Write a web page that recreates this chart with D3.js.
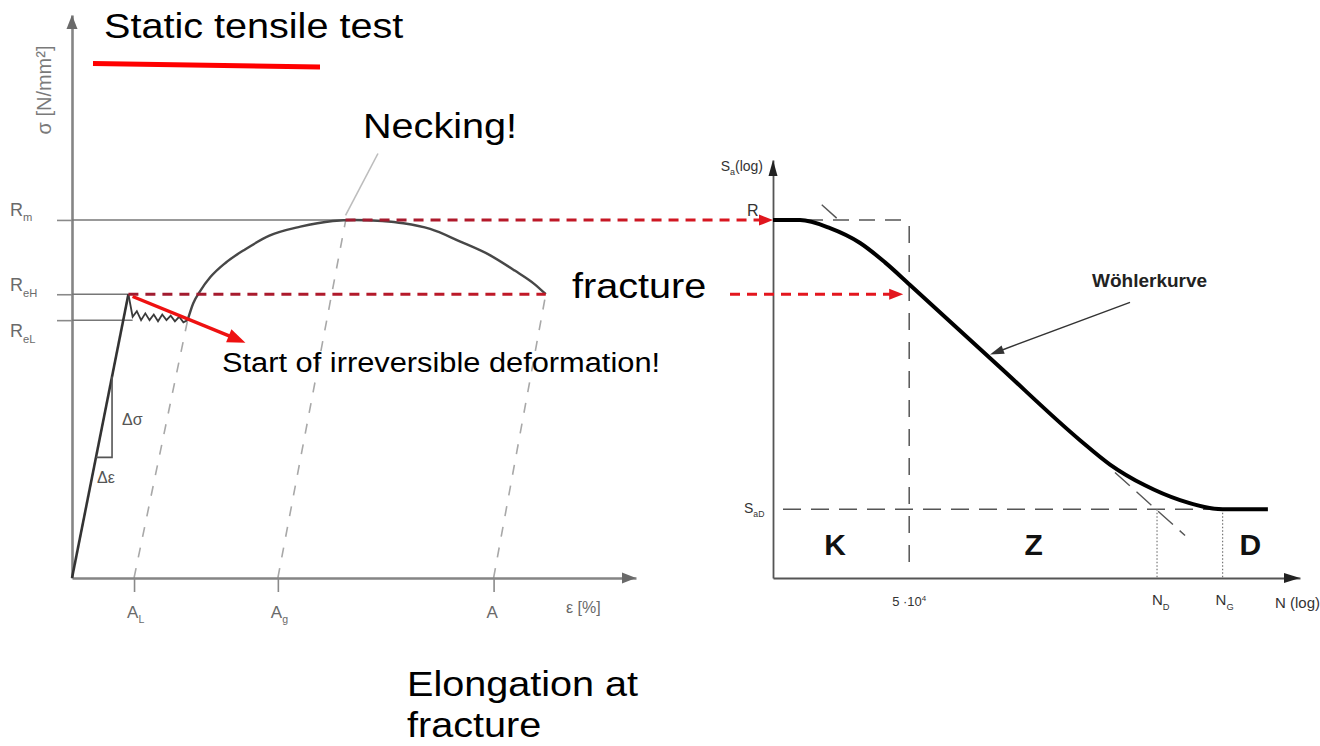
<!DOCTYPE html>
<html><head><meta charset="utf-8">
<script src="https://cdn.jsdelivr.net/npm/d3@7"></script>
<style>
body{margin:0;background:#fff}
svg{display:block}
text{font-family:"Liberation Sans",Arial,sans-serif}
</style>
</head><body>
<svg id="c" width="1320" height="746"></svg>
<script>
// ---------- DATA: static tensile test (strain in %, stress in N/mm²) ----------
const elasticLine   = [[0,0],[4.0,252]];
const yieldPlateau  = [[4.0,252],[4.3,232],[4.6,237],[4.9,229],[5.2,235],[5.5,229],[5.8,234],[6.1,228],[6.4,234],[6.7,229],[7.0,233],[7.3,228],[7.6,232],[7.9,227],[8.2,229]];
const hardeningCurve= [[8.2,229],[8.6,244],[9.1,255],[9.8,267],[10.9,280],[12.3,292],[14.0,304],[16.2,312],[18.5,317],[20.0,318],[22.0,317],[23.5,315],[25.4,310],[27.5,299],[29.6,287],[31.4,273],[32.8,261],[33.6,252]];
const stressLevels  = [{name:"R",sub:"m",value:318},{name:"R",sub:"eH",value:252},{name:"R",sub:"eL",value:229}];
const strainMarks   = [{name:"A",sub:"L",value:4.4},{name:"A",sub:"g",value:14.6},{name:"A",sub:"",value:29.9}];
const unloadTargets = [[8.2,229],[19.4,317],[33.6,252]];
const slopeTriangle = [1.7,2.84];            // strain interval of the Δσ/Δε triangle
const neckingPointer= [[19.4,322],[21.7,377]];
const yieldArrow    = [[4.3,250],[12.3,209]];

// ---------- DATA: Wöhler curve (N cycles, log; S_a, log) ----------
const wohlerN = [5e3,7.9e3,1.31e4,2.18e4,3.32e4,5.07e4,2.32e5,8.97e5,1.49e6,2.69e6,4.87e6,1e7,2.15e7];
const wohlerS = [600,600,582,550,511,469,343,260,237,219,207,200,200];
const tangentTop    = [[1.14e4,636],[1.6e4,594]];
const tangentBottom = [[1.62e6,230],[5.3e6,181]];
const S_R = 600, S_aD = 200;
const N_K = 5e4, N_D = 3.3e6, N_G = 1e7;
const regionLabels = [{name:"K",N:1.43e4},{name:"Z",N:4.1e5},{name:"D",N:1.6e7}];
const wohlerArrow = [[2.09e6,439],[1.96e5,360]];

// ---------- SCALES ----------
const svg = d3.select("#c");
const xL = d3.scaleLinear().domain([0,40]).range([72,636]);
const yL = d3.scaleLinear().domain([0,500]).range([578,15]);
const xW = d3.scaleLog().domain([5e3,3.7e7]).range([773,1300]);
const yW = d3.scaleLog().domain([154,754]).range([578,160]);

const defs = svg.append("defs");
function grad(id,x1,x2,c1,c2){
  const g=defs.append("linearGradient").attr("id",id).attr("gradientUnits","userSpaceOnUse")
    .attr("x1",x1).attr("x2",x2).attr("y1",0).attr("y2",0);
  g.append("stop").attr("offset",0).attr("stop-color",c1);
  g.append("stop").attr("offset",1).attr("stop-color",c2);
}
grad("redA",340,775,"#9e1b30","#e0161e");
grad("redB",130,905,"#9e1b30","#e3161e");

function arrow(g,x1,y1,x2,y2,o){
  const a=Math.atan2(y2-y1,x2-x1), L=o.headLen, w=o.headW/2;
  const bx=x2-L*Math.cos(a), by=y2-L*Math.sin(a);
  g.append("line").attr("x1",x1).attr("y1",y1).attr("x2",bx+Math.cos(a)).attr("y2",by+Math.sin(a))
    .attr("stroke",o.line||o.color).attr("stroke-width",o.width).attr("stroke-dasharray",o.dash||null);
  g.append("path").attr("d",`M${x2},${y2}L${bx-w*Math.sin(a)},${by+w*Math.cos(a)}L${bx+w*Math.sin(a)},${by-w*Math.cos(a)}Z`)
    .attr("fill",o.color);
}
function tri(g,tipX,tipY,dir,len,w,color){
  const p = dir==="up" ? `M${tipX},${tipY}L${tipX-w/2},${tipY+len}L${tipX+w/2},${tipY+len}Z`
                       : `M${tipX},${tipY}L${tipX-len},${tipY-w/2}L${tipX-len},${tipY+w/2}Z`;
  g.append("path").attr("d",p).attr("fill",color);
}
function subLabel(g,x,y,main,sub,size,color,anchor){
  const t=g.append("text").attr("x",x).attr("y",y).attr("font-size",size).attr("fill",color).attr("text-anchor",anchor||"start");
  t.append("tspan").text(main);
  if(sub) t.append("tspan").attr("font-size",size*0.62).attr("dy",size*0.3).text(sub);
  return t;
}
function bigText(x,y,txt,size){
  svg.append("text").attr("transform",`translate(${x},${y}) scale(1.1,1)`).attr("font-size",size).attr("fill","#000").text(txt);
}

// ================= LEFT: stress-strain =================
const gL = svg.append("g");
strainMarks.forEach((m,i)=>{
  gL.append("line").attr("x1",xL(m.value)).attr("y1",yL(0)).attr("x2",xL(unloadTargets[i][0])).attr("y2",yL(unloadTargets[i][1]))
    .attr("stroke","#a8a8a8").attr("stroke-width",1.6).attr("stroke-dasharray","10 11");
});
const axY = gL.append("g").attr("transform",`translate(${xL(0)},0)`)
  .call(d3.axisLeft(yL).tickValues(stressLevels.map(d=>d.value)).tickSize(15).tickSizeOuter(0).tickFormat(()=>""));
const axX = gL.append("g").attr("transform",`translate(0,${yL(0)})`)
  .call(d3.axisBottom(xL).tickValues(strainMarks.map(d=>d.value)).tickSize(14).tickSizeOuter(0).tickFormat(()=>""));
[axY,axX].forEach(a=>{a.select(".domain").attr("stroke","#858585").attr("stroke-width",2.6);
  a.selectAll(".tick line").attr("stroke","#8a8a8a").attr("stroke-width",1.6);});
tri(gL,xL(0),15,"up",14,11,"#6a6a6a");
tri(gL,636,yL(0),"right",14,11,"#6a6a6a");

const levelEnds=[unloadTargets[1][0],elasticLine[1][0],4.3];
stressLevels.forEach((s,i)=>{
  gL.append("line").attr("x1",xL(0)).attr("x2",xL(levelEnds[i])).attr("y1",yL(s.value)).attr("y2",yL(s.value))
    .attr("stroke","#777").attr("stroke-width",1.5);
});
const lblY=[ -4, -3, 17 ];
stressLevels.forEach((s,i)=>subLabel(gL,10,yL(s.value)+lblY[i],s.name,s.sub,18,"#6a6a6a"));
strainMarks.forEach(m=>subLabel(gL,xL(m.value)-7,618,m.name,m.sub,17,"#6a6a6a"));
gL.append("text").attr("x",566).attr("y",613).attr("font-size",16).attr("fill","#6a6a6a").text("ε [%]");
gL.append("text").attr("transform","translate(51,90) rotate(-90)").attr("text-anchor","middle").attr("font-size",20)
  .attr("fill","#7a7a7a").text("σ [N/mm²]");

const lineL = d3.line().x(d=>xL(d[0])).y(d=>yL(d[1]));
gL.append("path").attr("d",lineL(elasticLine)).attr("fill","none").attr("stroke","#333").attr("stroke-width",2.6);
gL.append("path").attr("d",lineL(yieldPlateau)).attr("fill","none").attr("stroke","#3a3a3a").attr("stroke-width",1.8);
gL.append("path").attr("d",lineL.curve(d3.curveMonotoneX)(hardeningCurve)).attr("fill","none").attr("stroke","#474747").attr("stroke-width",2.4);
lineL.curve(d3.curveLinear);

const E = elasticLine[1][1]/elasticLine[1][0];
const tr=[[slopeTriangle[1],E*slopeTriangle[1]],[slopeTriangle[1],E*slopeTriangle[0]],[slopeTriangle[0],E*slopeTriangle[0]]];
gL.append("path").attr("d",lineL(tr)).attr("fill","none").attr("stroke","#555").attr("stroke-width",1.6);
gL.append("text").attr("x",xL(slopeTriangle[1])+10).attr("y",yL(E*(slopeTriangle[0]+slopeTriangle[1])/2)+8).attr("font-size",16).attr("fill","#555").text("Δσ");
gL.append("text").attr("x",xL(slopeTriangle[0])+1).attr("y",yL(E*slopeTriangle[0])+26).attr("font-size",16).attr("fill","#555").text("Δε");

gL.append("line").attr("x1",xL(neckingPointer[0][0])).attr("y1",yL(neckingPointer[0][1]))
  .attr("x2",xL(neckingPointer[1][0])).attr("y2",yL(neckingPointer[1][1])).attr("stroke","#bdbdbd").attr("stroke-width",1.6);

// ================= RIGHT: Wöhler =================
const gW = svg.append("g");
const guide = (x1,y1,x2,y2,dash,off)=>gW.append("line").attr("x1",x1).attr("y1",y1).attr("x2",x2).attr("y2",y2)
  .attr("stroke","#555").attr("stroke-width",1.5).attr("stroke-dasharray",dash).attr("stroke-dashoffset",off||0);
guide(xW(5e3),yW(S_R),xW(N_K),yW(S_R),"16 10",-8);
guide(xW(N_K),yW(S_R),xW(N_K),yW(160),"17 12",-6);
guide(xW(5e3),yW(S_aD),xW(N_G),yW(S_aD),"18 10",18);
[N_D,N_G].forEach(n=>gW.append("line").attr("x1",xW(n)).attr("x2",xW(n)).attr("y1",yW(S_aD)).attr("y2",yW(154))
  .attr("stroke","#777").attr("stroke-width",1.2).attr("stroke-dasharray","1.5 2"));
[tangentTop,tangentBottom].forEach(t=>gW.append("line").attr("x1",xW(t[0][0])).attr("y1",yW(t[0][1]))
  .attr("x2",xW(t[1][0])).attr("y2",yW(t[1][1])).attr("stroke","#555").attr("stroke-width",1.4).attr("stroke-dasharray","20 9"));

const axWY = gW.append("g").attr("transform",`translate(${xW(5e3)},0)`).call(d3.axisLeft(yW).tickValues([]).tickSizeOuter(0));
const axWX = gW.append("g").attr("transform",`translate(0,${yW(154)})`).call(d3.axisBottom(xW).tickValues([]).tickSizeOuter(0));
[axWY,axWX].forEach(a=>a.select(".domain").attr("stroke","#555").attr("stroke-width",1.8));
tri(gW,xW(5e3),160,"up",16,9,"#222");
tri(gW,1300,yW(154),"right",16,10,"#222");

const lineW = d3.line().x(d=>xW(d[0])).y(d=>yW(d[1])).curve(d3.curveMonotoneX);
gW.append("path").attr("d",lineW(wohlerN.map((n,i)=>[n,wohlerS[i]]))).attr("fill","none").attr("stroke","#000").attr("stroke-width",4);

const wl=gW.append("text").attr("x",763).attr("y",171).attr("font-size",14).attr("fill","#333").attr("text-anchor","end");
wl.append("tspan").text("S"); wl.append("tspan").attr("font-size",9).attr("dy",4).text("a"); wl.append("tspan").attr("dy",-4).text("(log)");
gW.append("text").attr("x",747).attr("y",yW(S_R)-4).attr("font-size",16).attr("fill","#333").text("R");
subLabel(gW,744,yW(S_aD)+4,"S","aD",14,"#333");
const t5=gW.append("text").attr("x",xW(N_K)).attr("y",606).attr("font-size",13).attr("fill","#333").attr("text-anchor","middle");
t5.append("tspan").text("5 ·10"); t5.append("tspan").attr("font-size",8).attr("dy",-5).text("4");
subLabel(gW,xW(N_D)-5,605,"N","D",15,"#333");
subLabel(gW,xW(N_G)-7,605,"N","G",15,"#333");
gW.append("text").attr("x",1320).attr("y",608).attr("font-size",15).attr("fill","#333").attr("text-anchor","end").text("N (log)");
regionLabels.forEach(r=>gW.append("text").attr("x",xW(r.N)).attr("y",555).attr("text-anchor","middle")
  .attr("font-size",30).attr("font-weight","bold").attr("fill","#111").text(r.name));
gW.append("text").attr("x",1092).attr("y",287).attr("font-size",19).attr("font-weight","bold").attr("fill","#222").text("Wöhlerkurve");
arrow(gW,xW(wohlerArrow[0][0]),yW(wohlerArrow[0][1]),xW(wohlerArrow[1][0]),yW(wohlerArrow[1][1]),
  {color:"#333",width:1.4,headLen:14,headW:9});

// ================= connecting red annotations =================
const peak = unloadTargets[1], frac = hardeningCurve[hardeningCurve.length-1];
arrow(svg,xL(peak[0]),yW(S_R),xW(5e3),yW(S_R),{color:"#e0161e",line:"url(#redA)",width:3,dash:"10 7",headLen:14,headW:11});
svg.append("line").attr("x1",xL(elasticLine[1][0])).attr("x2",xL(frac[0])).attr("y1",yL(frac[1])).attr("y2",yL(frac[1]))
  .attr("stroke","url(#redB)").attr("stroke-width",3).attr("stroke-dasharray","10 7");
arrow(svg,730,yL(frac[1]),xW(N_K)-6,yL(frac[1]),{color:"#e3161e",width:3,dash:"10 7",headLen:14,headW:11});
arrow(svg,xL(yieldArrow[0][0]),yL(yieldArrow[0][1]),xL(yieldArrow[1][0]),yL(yieldArrow[1][1]),{color:"#ee1111",width:3.5,headLen:18,headW:14});

svg.append("line").attr("x1",93).attr("y1",63.5).attr("x2",320).attr("y2",67).attr("stroke","#ff0000").attr("stroke-width",5);

bigText(104,38,"Static tensile test",36);
bigText(363,138,"Necking!",36);
bigText(572,298,"fracture",36);
bigText(407,696,"Elongation at",36);
bigText(407,737,"fracture",36);
svg.append("text").attr("transform","translate(222,372) scale(1.1,1)").attr("font-size",28).attr("fill","#000").text("Start of irreversible deformation!");
</script>
</body></html>
